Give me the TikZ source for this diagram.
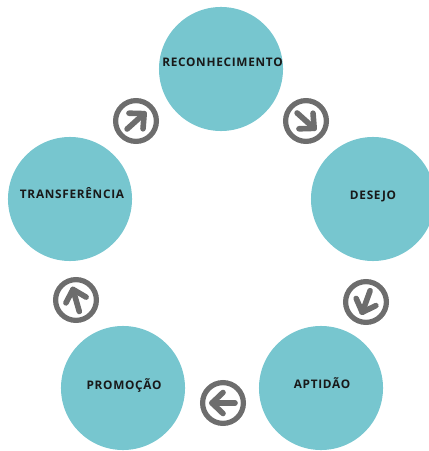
\documentclass[tikz,border=0pt]{standalone}
\usepackage{fontspec}
\setmainfont{Open Sans}[LetterSpace=6]
\definecolor{stageteal}{HTML}{77C6CF}
\definecolor{icongray}{HTML}{6D6D6D}
\tikzset{
  stage/.style={circle, fill=stageteal, minimum size=3.1cm, inner sep=0pt, outer sep=0pt},
  stagetext/.style={font=\fontsize{8.4pt}{10pt}\selectfont\bfseries, text=black!90, inner sep=0pt, text height=6pt, text depth=0pt},
  ring/.style={circle, draw=icongray, line width=0.13cm, minimum size=1.02cm, inner sep=0pt, outer sep=0pt},
  arrowline/.style={icongray, line width=0.14cm, line cap=round, line join=round},
  pics/arrowicon/.style={code={
    \draw[arrowline] (12,0) -- (-11,0);
    \draw[arrowline] (0,-10.5) -- (-11,0) -- (0,10.5);
  }}
}
\begin{document}
\begin{tikzpicture}[x=0.025cm, y=-0.025cm]
        \useasboundingbox (0,0) rectangle (428,451);
        % stages
        \node[stage] (reconhecimento) at (221,69) {};
        \node[stage] (desejo) at (373,199) {};
        \node[stage] (aptidao) at (321,388) {};
        \node[stage] (promocao) at (123,388) {};
        \node[stage] (transferencia) at (70,199) {};
        % labels
        \node[stagetext] (reconhecimentotext) at (222.5,62) {RECONHECIMENTO};
        \node[stagetext] (desejotext) at (373,195) {DESEJO};
        \node[stagetext] (aptidaotext) at (322,384) {APTIDÃO};
        \node[stagetext] (promocaotext) at (124,385) {PROMOÇÃO};
        \node[stagetext] (transferenciatext) at (72,194) {TRANSFERÊNCIA};
        % arrow icons
        \node[ring] (ringa) at (306,121) {};
        \pic[rotate=138] at (ringa) {arrowicon};
        \node[ring] (ringb) at (366,302) {};
        \pic[rotate=70] at (ringb) {arrowicon};
        \node[ring] (ringc) at (223,403) {};
        \pic at (ringc) {arrowicon};
        \node[ring] (ringd) at (76,300) {};
        \pic[rotate=-74] at (ringd) {arrowicon};
        \node[ring] (ringe) at (136,121) {};
        \pic[rotate=-138] at (ringe) {arrowicon};
\end{tikzpicture}
\end{document}
